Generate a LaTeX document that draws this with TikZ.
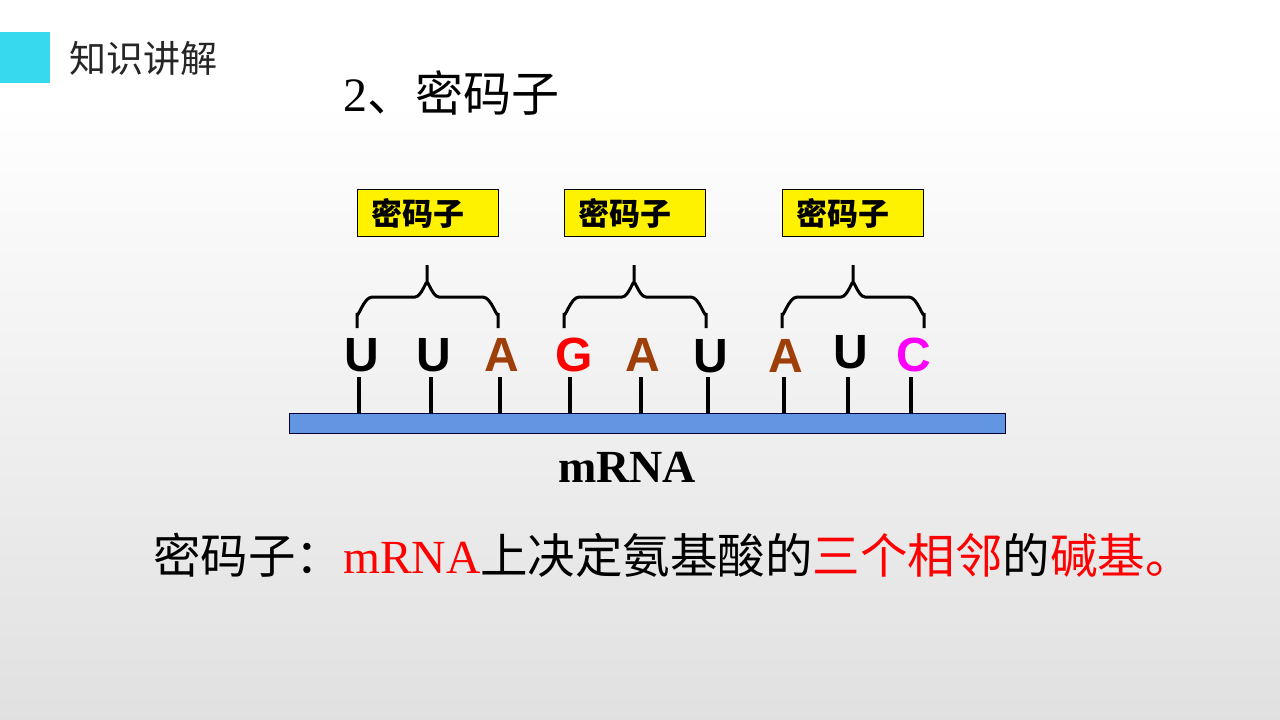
\documentclass[tikz,border=0pt]{standalone}
\usepackage{fontspec}
\setmainfont{Liberation Serif}
\newfontfamily\cjk{Noto Sans CJK SC}
\newfontfamily\arial{Liberation Sans}
\definecolor{slidecyan}{RGB}{54,217,238}
\definecolor{barblue}{RGB}{98,149,226}
\definecolor{baseA}{RGB}{158,62,8}
\definecolor{baseC}{RGB}{255,0,255}
\newcommand{\fsz}[1]{\fontsize{#1}{#1}\selectfont}
\tikzset{
  codon/.style={draw=black, fill=yellow, line width=0.8pt, minimum width=141pt,
    minimum height=47pt, inner sep=0pt, font=\cjk\bfseries\fsz{31pt}},
  base/.style={font=\arial\bfseries\fsz{48pt}, inner sep=0pt},
  stem/.style={line width=4pt},
  bracket/.style={line width=3pt}
}
\begin{document}
\begin{tikzpicture}[x=1pt,y=-1pt]
        \useasboundingbox (0,0) rectangle (1280,720);
        \fill[white] (0,0) rectangle (1280,100);
        \shade[top color=white, bottom color=black!12] (0,100) rectangle (1280,720);
        \fill[slidecyan] (0,32) rectangle (50,83);
        \node[anchor=west, inner sep=0pt, text=black!85, font=\cjk\fsz{37pt}] (head) at (69,58) {知识讲解};
        \node[anchor=west, inner sep=0pt, font=\cjk\fsz{48pt}] (title) at (343,93) {{\rmfamily 2}、密码子};

        % codon boxes and braces
        \foreach \i/\l/\m/\r in {1/357/427/498, 2/564/634/706, 3/782/853/924}{
          \node[codon] (box\i) at ({(\l+\r)/2},213) {密码子\kern20pt};
          \draw[bracket] (\l,328)--(\l,313) to[out=-90,in=180] (\l+15,297)--(\m-12,297)
            to[out=0,in=90] (\m,284)--(\m,265)--(\m,284) to[out=90,in=180] (\m+12,297)--(\r-15,297)
            to[out=0,in=-90] (\r,313)--(\r,328);
        }

        % mRNA strand
        \draw[fill=barblue, draw=black!80!blue, line width=1pt] (289,413) rectangle (1005,433);
        \foreach \i/\s/\x/\y/\l/\c in {1/359/362/355/U/black, 2/431/434/355/U/black, 3/500/502/355/A/baseA,
            4/570/574/355/G/red, 5/641/643/355/A/baseA, 6/708/711/356/U/black,
            7/784/786/356/A/baseA, 8/848/851/352/U/black, 9/911/914/355/C/baseC}{
          \node[base, text=\c] (n\i) at (\x,\y) {\l};
          \draw[stem] (\s,377)--(\s,413);
        }
        \node[inner sep=0pt, font=\bfseries\fsz{46pt}] (mrna) at (627,467) {mRNA};

        \node[anchor=west, inner sep=0pt, font=\cjk\fsz{47.5pt}] (defn) at (153,555)
          {密码子：\textcolor{red}{\rmfamily mRNA}上决定氨基酸的\textcolor{red}{三个相邻}的\textcolor{red}{碱基。}};
\end{tikzpicture}
\end{document}
